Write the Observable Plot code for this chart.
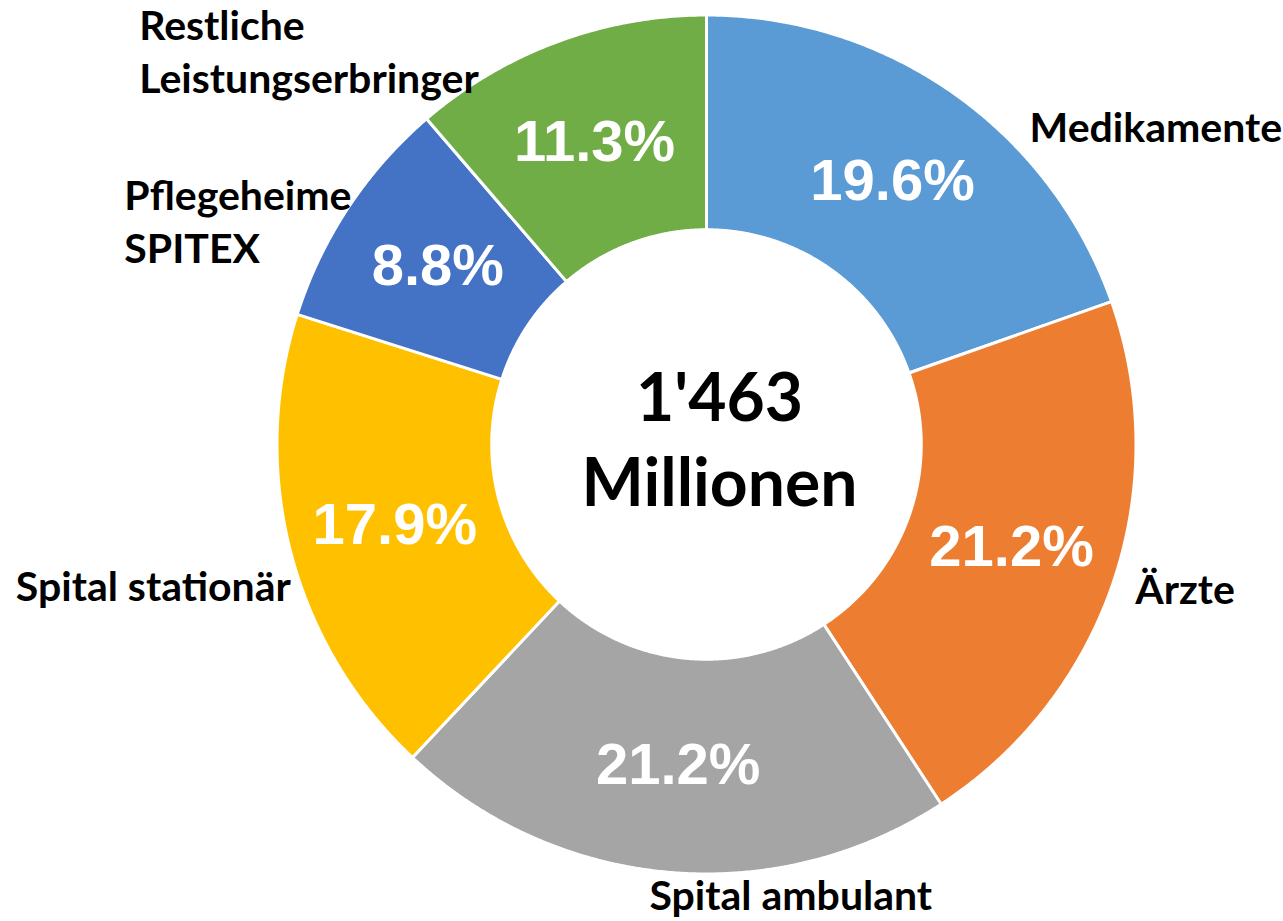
<!DOCTYPE html>
<html>
<head>
<meta charset="utf-8">
<script src="https://cdn.jsdelivr.net/npm/d3@7"></script>
<script src="https://cdn.jsdelivr.net/npm/@observablehq/plot@0.6"></script>
<style>
  html, body { margin: 0; padding: 0; background: #ffffff; }
  #chart { width: 1283px; height: 921px; overflow: hidden; }
</style>
</head>
<body>
<div id="chart"></div>
<script>
// ---- data ----
const categories = ["Medikamente", "Ärzte", "Spital ambulant", "Spital stationär", "Pflegeheime\nSPITEX", "Restliche\nLeistungserbringer"];
const shares = [19.6, 21.2, 21.2, 17.9, 8.8, 11.3];
const pctLabels = ["19.6%", "21.2%", "21.2%", "17.9%", "8.8%", "11.3%"];
const colors = ["#5B9BD5", "#ED7D31", "#A5A5A5", "#FFC000", "#4472C4", "#70AD47"];
const totalLabel = "1'463\nMillionen";

// ---- layout ----
const W = 1283, H = 921;
const cx = 706, cy = 444, R = 429.5;
const inner = 0.5;
const labelFont = "Lato, 'Open Sans', sans-serif";
// outside label offsets (px) from the outer point at mid angle
const labelLayout = {
  "Medikamente": {anchor: "start", dx: 75, dy: 31},
  "Ärzte": {anchor: "start", dx: 22, dy: 5},
  "Spital ambulant": {anchor: "middle", dx: 122, dy: 21},
  "Spital stationär": {anchor: "end", dx: 0, dy: 31},
  "Pflegeheime\nSPITEX": {anchor: "start", dx: -224, dy: 12},
  "Restliche\nLeistungserbringer": {anchor: "start", dx: -418, dy: 8}
};

const arcs = d3.pie().sort(null).value(d => d)(shares);
const slices = arcs.map((a, i) => ({
  cat: categories[i], pct: pctLabels[i], color: colors[i],
  a0: a.startAngle, a1: a.endAngle, mid: (a.startAngle + a.endAngle) / 2
}));

function ring(s) {
  const n = Math.max(2, Math.ceil((s.a1 - s.a0) / 0.005));
  const pts = [];
  for (let k = 0; k <= n; k++) {
    const t = s.a0 + (s.a1 - s.a0) * k / n;
    pts.push({x: Math.sin(t), y: Math.cos(t)});
  }
  for (let k = n; k >= 0; k--) {
    const t = s.a0 + (s.a1 - s.a0) * k / n;
    pts.push({x: inner * Math.sin(t), y: inner * Math.cos(t)});
  }
  pts.push(pts[0]);
  return pts;
}

const marks = [];
slices.forEach(s => {
  marks.push(Plot.line(ring(s), {x: "x", y: "y", fill: s.color, stroke: "white", strokeWidth: 3, curve: "linear"}));
});

// percentage labels inside the ring
marks.push(Plot.text(slices, {
  x: d => 0.75 * Math.sin(d.mid), y: d => 0.75 * Math.cos(d.mid),
  text: "pct", fill: "white", fontSize: 58, fontWeight: "bold",
  fontFamily: "'Liberation Sans', Arial, sans-serif", textAnchor: "middle"
}));

// category labels outside
slices.forEach(s => {
  const L = labelLayout[s.cat];
  marks.push(Plot.text([s], {
    x: d => Math.sin(d.mid), y: d => Math.cos(d.mid),
    text: "cat", textAnchor: L.anchor, dx: L.dx, dy: L.dy,
    fontSize: 41, fontWeight: "bold", fontFamily: labelFont,
    fill: "black", lineHeight: 1.29
  }));
});

// centre total
marks.push(Plot.text([totalLabel], {
  x: () => 0, y: () => 0, text: d => d, dx: 13, dy: -8,
  fontSize: 66, fontWeight: "bold", fontFamily: labelFont,
  fill: "black", lineHeight: 1.29, textAnchor: "middle"
}));

const chart = Plot.plot({
  width: W, height: H,
  margin: 0,
  x: {domain: [-1, 1], range: [cx - R, cx + R], axis: null},
  y: {domain: [-1, 1], range: [cy + R, cy - R], axis: null},
  style: {background: "white", overflow: "visible"},
  marks
});
document.getElementById("chart").appendChild(chart);
</script>
</body>
</html>
